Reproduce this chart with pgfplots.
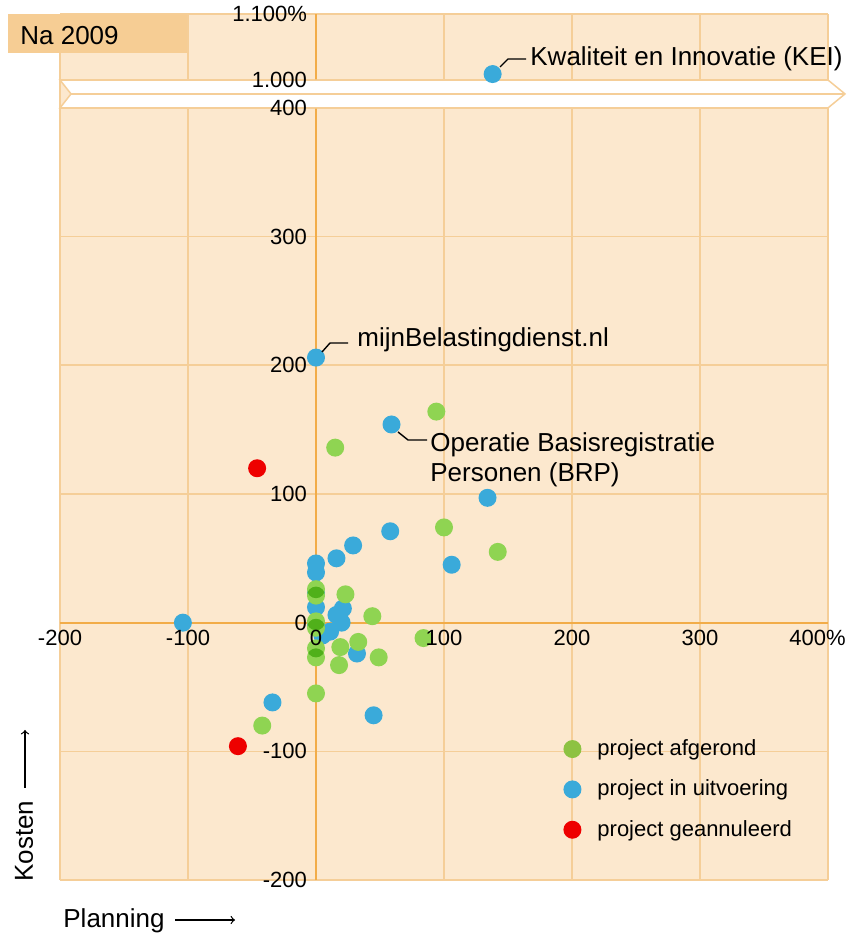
\documentclass[border=0pt]{standalone}
\usepackage{fontspec}
\setmainfont{Liberation Sans}
\usepackage{pgfplots}
\pgfplotsset{compat=1.18}
\usepackage{pgfplotstable}

\definecolor{bgpeach}{RGB}{252,232,206}
\definecolor{gridor}{RGB}{245,206,152}
\definecolor{zeroor}{RGB}{242,172,72}
\definecolor{boxor}{RGB}{246,205,148}
\definecolor{ptgreen}{RGB}{141,194,66}
\definecolor{ptgreensrc}{RGB}{143,212,82}
\definecolor{ptblue}{RGB}{58,170,218}
\definecolor{ptred}{RGB}{238,0,0}

\pgfplotstableread{
x y
94 164
15 136
100 74
142 55
23 22
44 5
84 -12
0 26
0 21
0 1
0 -4
0 -20
0 -27
19 -19
33 -15
49 -27
18 -33
0 -55
-42 -80
}\greendata

\pgfplotstableread{
x y
138 1009
0 206
59 154
134 97
106 45
58 71
29 60
16 50
0 46
0 39
0 23
0 12
21 11
16 6
20 0
11 -7
5 -10
0 -2
32 -24
45 -72
-34 -62
-104 0
}\bluedata

\pgfplotstableread{
x y
-46 120
-61 -96
}\reddata

\pgfplotsset{
  base/.style={
    scale only axis, width=384pt, height=433pt,
    xmin=-200, xmax=400, ymin=-200, ymax=473,
    enlargelimits=false,
    axis lines=middle,
    xtick={-200,-100,0,100,200,300,400},
    ytick={-200,-100,0,100,200,300,400,421.7,473},
    major tick length=0pt,
    hide obscured x ticks=false, hide obscured y ticks=false,
    tick label style={font=\fontsize{11}{13}\selectfont},
  },
  dot/.style={only marks, mark=*, mark size=4.5pt, color=#1, mark options={fill=#1, draw opacity=0}},
}

\begin{document}
\begin{tikzpicture}
% axis 1: background, grid, zero lines, band, blue and red points
\begin{axis}[base, clip=false,
  axis background/.style={fill=bgpeach},
  grid=major, major grid style={draw=gridor, line width=0.8pt},
  axis line style={draw=zeroor, line width=1.1pt, -},
  xticklabels={,,,,,,}, yticklabels={,,,,,,,,},
]
\draw[draw=gridor, line width=0.75pt, fill=white]
  (axis cs:-200,421.7) -- (axis cs:400,421.7) -- (axis cs:413.3,410.9) --
  (axis cs:400,400) -- (axis cs:-200,400) -- (axis cs:-191.4,410.9) -- cycle;
\draw[draw=gridor, line width=0.75pt] (axis cs:-191.4,410.9) -- (axis cs:413.3,410.9);
\addplot[dot=ptblue, y filter/.expression={y>900 ? 421.7+(y-1000)*0.513 : y}] table {\bluedata};
\addplot[dot=ptred] table {\reddata};
\end{axis}

% axis 2: green points, multiplied over the rest
\begin{scope}[blend group=multiply]
\begin{axis}[base, hide axis]
\addplot[dot=ptgreensrc] table {\greendata};
\end{axis}
\end{scope}

% axis 3: tick labels and legend
\begin{axis}[base,
  axis line style={draw=none},
  xticklabels={-200,-100,0,100,200,300,{\hspace*{-10.5pt}400\%}},
  yticklabels={-200,-100,0,100,200,300,400,1.000,1.100\%},
  yticklabel style={xshift=-1pt},
  legend cell align=left,
  legend style={at={(axis cs:193,-129.6)}, anchor=west, draw=none, fill=none,
    inner sep=0pt, row sep=6.7pt, nodes={inner sep=2pt},
    /tikz/every odd column/.append style={column sep=6pt},
    font=\fontsize{11}{13}\selectfont},
]
\addlegendimage{dot=ptgreen}
\addlegendentry{project afgerond}
\addlegendimage{dot=ptblue}
\addlegendentry{project in uitvoering}
\addlegendimage{dot=ptred}
\addlegendentry{project geannuleerd}
\end{axis}

% annotations
\begin{scope}[font=\fontsize{13}{15}\selectfont]
\draw[line width=0.7pt] (220pt,406.5pt) -- (224pt,410.5pt) -- (233pt,410.5pt);
\node[anchor=base west, inner sep=0pt] at (235pt,407pt) {Kwaliteit en Innovatie (KEI)};
\draw[line width=0.7pt] (131pt,264pt) -- (135pt,268.5pt) -- (144pt,268.5pt);
\node[anchor=base west, inner sep=0pt] at (148.5pt,266.5pt) {mijnBelastingdienst.nl};
\draw[line width=0.7pt] (169pt,224pt) -- (174pt,220pt) -- (183.5pt,220pt);
\node[anchor=base west, inner sep=0pt] at (185pt,214pt) {Operatie Basisregistratie};
\node[anchor=base west, inner sep=0pt] at (185pt,199pt) {Personen (BRP)};
% axis titles
\node[anchor=base west, inner sep=0pt] at (1.5pt,-23.5pt) {Planning};
\draw[line width=0.6pt, ->] (57.5pt,-20pt) -- (87.5pt,-20pt);
\node[anchor=base west, inner sep=0pt, rotate=90] at (-13.5pt,-1pt) {Kosten};
\draw[line width=0.6pt, ->] (-17.5pt,46pt) -- (-17.5pt,75pt);
% year box
\fill[boxor] (-26pt,413.5pt) rectangle (63.5pt,433pt);
\node[anchor=base west, inner sep=0pt] at (-20pt,417.5pt) {Na 2009};
\end{scope}

\pgfresetboundingbox
\path[use as bounding box] (-30pt,-26.5pt) rectangle (395.5pt,440pt);
\end{tikzpicture}
\end{document}
